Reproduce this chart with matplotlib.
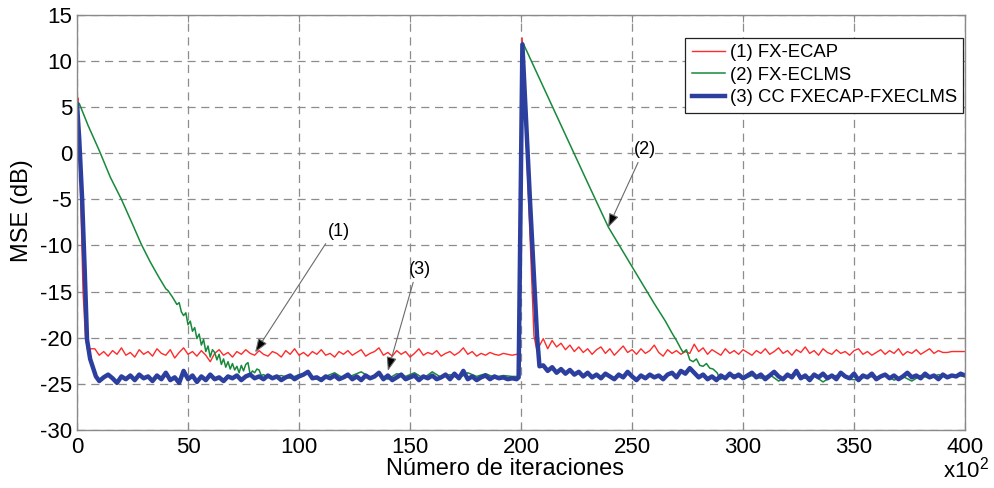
import numpy as np
import matplotlib
matplotlib.use('Agg')
import matplotlib.pyplot as plt

plt.rcParams['font.family'] = ['Liberation Sans', 'DejaVu Sans']
plt.rcParams['axes.unicode_minus'] = False
plt.rcParams['mathtext.default'] = 'regular'

# ---- datos (iteraciones en x10^2, MSE en dB) ----
# (1) FX-ECAP
red_x0 = [0, 0.4, 1.5, 2.7, 3.8, 4.8, 5.8]
red_y0 = [5.2, 6.0, -3.5, -15.0, -20.0, -21.3, -21.2]
red_x1 = np.arange(8, 199, 2)
red_y1 = [-21.2, -21.9, -21.5, -22.0, -21.4, -21.8, -21.1, -21.9, -21.6, -22.1, -21.3, -21.8,
          -21.5, -22.0, -21.2, -21.7, -21.9, -21.3, -22.2, -21.6, -21.1, -21.8, -21.5, -22.0,
          -21.4, -21.9, -22.6, -21.7, -21.3, -21.9, -21.6, -22.1, -21.5, -21.8, -21.3, -21.7,
          -21.9, -21.4, -21.8, -22.0, -21.5, -21.7, -22.1, -21.4, -21.8, -21.2, -21.9, -21.6,
          -22.0, -21.5, -21.8, -21.3, -21.9, -21.7, -22.1, -21.5, -21.8, -21.4, -21.9, -21.6,
          -21.3, -22.0, -21.7, -21.5, -21.1, -21.9, -21.6, -22.0, -21.4, -21.8, -21.5, -22.1,
          -21.7, -21.2, -21.9, -21.6, -21.8, -21.4, -22.0, -21.7, -21.5, -21.9, -21.6, -21.1,
          -21.8, -21.5, -22.0, -21.7, -21.9, -21.6, -21.8, -21.9, -21.7, -21.8, -21.9, -21.8]
red_xs = [199.3, 200.5, 205.8, 207.0]
red_ys = [-21.8, 12.5, -19.8, -21.2]
red_x2 = np.arange(208, 401, 2)
red_y2 = [-21.0, -20.1, -21.2, -20.3, -21.0, -20.6, -21.3, -20.8, -21.5, -21.0, -21.6, -21.2,
          -21.8, -21.3, -21.0, -21.7, -21.2, -21.9, -21.4, -20.9, -21.6, -21.3, -21.8, -21.2,
          -21.7, -21.4, -20.8, -21.6, -22.0, -21.3, -21.7, -21.4, -21.8, -21.5, -21.7, -20.7,
          -21.5, -21.1, -21.8, -21.3, -21.6, -21.9, -21.2, -21.7, -21.4, -21.8, -21.3, -21.6,
          -21.9, -21.4, -21.7, -21.2, -21.8, -21.5, -21.1, -21.7, -21.4, -21.9, -21.3, -21.6,
          -21.0, -21.7, -21.4, -21.9, -21.2, -21.6, -21.8, -21.3, -21.7, -21.5, -21.9, -21.4,
          -21.2, -21.8, -21.5, -21.9, -21.6, -21.3, -21.8, -21.4, -21.7, -21.2, -21.9, -21.5,
          -21.7, -21.3, -21.8, -21.5, -21.2, -21.7, -21.4, -21.6, -21.6, -21.5, -21.5, -21.5,
          -21.5]

# (2) FX-ECLMS
green_x0 = [0, 1, 5, 10, 15, 20, 25, 29, 33, 37, 40, 41, 43, 45, 46, 47, 48, 49, 50, 51,
            52, 53, 54, 55, 56, 57, 58, 59, 60, 61, 62, 63, 64, 65, 66, 67, 68, 69, 70, 71,
            72, 73, 74, 75, 76, 77, 78, 79, 80, 81, 82, 83, 84, 86]
green_y0 = [4.8, 5.4, 3.0, 0.3, -2.6, -5.0, -7.7, -9.9, -11.8, -13.5, -14.7, -14.9, -15.6, -16.4,
            -16.2, -17.2, -17.6, -17.3, -18.6, -18.2, -19.3, -18.9, -20.1, -19.6, -20.8, -20.2,
            -21.5, -20.9, -22.1, -21.3, -21.6, -22.4, -21.8, -22.9, -22.3, -23.2, -22.6, -23.4,
            -22.8, -23.5, -23.1, -23.8, -23.0, -23.6, -22.9, -22.7, -24.0, -23.6, -23.8, -23.4,
            -23.5, -24.1, -24.0, -24.3]
green_x1 = np.arange(88, 197, 4)
green_y1 = [-24.3, -24.1, -24.4, -24.0, -23.9, -24.5, -24.2, -23.8, -24.4, -24.1, -23.7, -24.3,
            -24.0, -24.5, -23.9, -24.2, -23.8, -24.4, -23.7, -24.3, -24.0, -24.4, -23.8, -24.2,
            -23.9, -24.3, -24.1, -24.2]
green_xs = [198.8, 200.8, 210, 220, 230, 239.3, 245, 250, 255, 260, 265, 268, 270, 272, 273,
            274.5, 276, 277.5, 279, 280.5, 282, 283.5, 285, 286.5, 288.3, 289.6]
green_ys = [-24.2, 12.0, 7.2, 2.0, -3.2, -8.0, -10.3, -12.3, -14.3, -16.3, -18.2, -19.5, -20.3,
            -21.2, -21.6, -21.3, -22.4, -22.6, -22.3, -23.0, -23.1, -22.8, -23.3, -23.4, -23.8,
            -24.5]
green_x2 = np.arange(292, 401, 4)
green_y2 = [-24.3, -24.0, -24.5, -24.1, -24.4, -24.0, -24.7, -24.2, -23.9, -24.4, -24.1, -24.8,
            -24.2, -24.0, -24.5, -24.6, -24.1, -24.4, -24.0, -24.6, -24.2, -24.7, -24.1, -24.4,
            -24.0, -24.3, -24.1, -24.2]

# (3) CC FXECAP-FXECLMS
blue_x0 = [0, 1.0, 2.3, 3.5, 4.5, 5.9, 7.0, 8.5]
blue_y0 = [5.3, 1.5, -5.0, -13.0, -20.2, -22.3, -23.1, -24.2]
blue_x1 = np.arange(10, 199, 2)
blue_y1 = [-24.7, -24.3, -24.0, -24.4, -24.9, -24.2, -24.5, -24.1, -24.6, -24.0, -24.4, -24.2,
           -24.7, -24.1, -24.5, -23.8, -24.6, -24.3, -24.9, -23.6, -24.5, -24.1, -24.8, -24.2,
           -24.6, -24.0, -24.5, -24.3, -24.7, -24.2, -24.4, -24.1, -24.6, -24.2, -24.0, -24.4,
           -24.2, -24.5, -24.1, -24.4, -24.2, -24.6, -24.3, -24.1, -24.5, -24.2, -24.0, -23.7,
           -24.4, -24.3, -24.6, -24.2, -24.4, -24.1, -24.5, -24.3, -24.0, -24.5, -24.2, -24.6,
           -24.1, -24.4, -24.2, -23.8, -24.5, -24.1, -24.6, -24.3, -24.0, -24.5, -24.3, -24.1,
           -24.6, -24.2, -24.4, -24.1, -24.5, -24.3, -24.0, -24.5, -23.9, -24.4, -23.6, -24.5,
           -24.2, -24.6, -24.3, -24.1, -24.5, -24.2, -24.4, -24.3, -24.5, -24.4, -24.5]
blue_xs = [198.9, 200.6, 204.0, 207.2, 208.3]
blue_ys = [-24.3, 11.8, -5.0, -19.8, -23.1]
blue_x2 = np.arange(210, 401, 2)
blue_y2 = [-23.0, -23.6, -23.2, -23.8, -23.4, -23.9, -23.5, -24.0, -23.7, -24.2, -23.8, -24.3,
           -24.0, -24.4, -23.9, -24.2, -24.5, -24.0, -24.3, -23.7, -24.2, -24.6, -24.1, -24.4,
           -24.0, -24.3, -24.1, -24.5, -24.0, -23.8, -24.3, -23.6, -23.9, -23.3, -23.8, -24.3,
           -24.0, -24.5, -24.2, -24.6, -24.1, -24.4, -23.9, -24.3, -24.0, -24.4, -24.1, -23.8,
           -24.3, -24.0, -24.5, -24.1, -23.7, -24.2, -24.5, -24.0, -24.3, -23.6, -24.4, -24.1,
           -24.6, -24.0, -24.3, -23.9, -24.4, -24.1, -24.5, -23.8, -24.2, -24.4, -23.9, -24.6,
           -24.1, -24.3, -23.9, -24.5, -24.2, -24.0, -24.4, -24.1, -24.5, -24.2, -23.8, -24.3,
           -24.1, -24.4, -23.9, -24.3, -24.1, -24.5, -24.0, -24.3, -24.1, -24.2, -23.9, -24.1]

labels = ['(1) FX-ECAP', '(2) FX-ECLMS', '(3) CC FXECAP-FXECLMS']
x_ticks = np.arange(0, 401, 50)
y_ticks = np.arange(-30, 16, 5)

red_x = np.concatenate([red_x0, red_x1, red_xs, red_x2])
red_y = np.concatenate([red_y0, red_y1, red_ys, red_y2])
green_x = np.concatenate([green_x0, green_x1, green_xs, green_x2])
green_y = np.concatenate([green_y0, green_y1, green_ys, green_y2])
blue_x = np.concatenate([blue_x0, blue_x1, blue_xs, blue_x2])
blue_y = np.concatenate([blue_y0, blue_y1, blue_ys, blue_y2])

# ---- figura ----
fig = plt.figure(figsize=(9.94, 4.88), dpi=100)
ax = fig.add_axes([0.0775, 0.119, 0.8934, 0.8504])

ax.plot(red_x, red_y, color='#ff2a2a', lw=1.0, label=labels[0])
ax.plot(green_x, green_y, color='#17893a', lw=1.1, label=labels[1])
ax.plot(blue_x, blue_y, color='#2c3f9e', lw=3.2, label=labels[2])

ax.set_xlim(0, 400)
ax.set_ylim(-30, 15)
ax.set_xticks(x_ticks)
ax.set_yticks(y_ticks)
ax.grid(True, color='#8c8c8c', linestyle=(0, (6.5, 4.5)), lw=0.9)
ax.set_axisbelow(True)
for s in ax.spines.values():
    s.set_color('#8a8a8a')
    s.set_linewidth(1.0)
ax.tick_params(direction='in', length=5, color='#8a8a8a', labelsize=16,
               top=True, right=True)
ax.tick_params(axis='x', pad=5)
ax.tick_params(axis='y', pad=3.5)

ax.set_xlabel('Número de iteraciones', fontsize=17)
ax.xaxis.set_label_coords(0.482, -0.068)
ax.set_ylabel('MSE (dB)', fontsize=17)
ax.yaxis.set_label_coords(-0.05, 0.528)
ax.text(0.975, -0.095, 'x10$^{2}$', transform=ax.transAxes, fontsize=16,
        ha='left', va='center')

leg = ax.legend(loc='upper right', bbox_to_anchor=(0.998, 0.945), borderaxespad=0,
                fancybox=False, edgecolor='#222222', framealpha=1, fontsize=13.3,
                handlelength=1.8, handletextpad=0.25, labelspacing=0.3, borderpad=0.35)
leg.get_frame().set_linewidth(0.9)

# anotaciones con flecha
notes = [('(1)', (118, -8.5), (112, -9.8), (80.2, -21.6)),
         ('(3)', (154.5, -12.6), (151.4, -14.0), (140.0, -23.6)),
         ('(2)', (256.0, 0.4), (252.7, -1.0), (239.2, -8.05))]
for txt, tpos, start, tip in notes:
    ax.text(tpos[0], tpos[1], txt, fontsize=13, ha='center', va='center')
    ax.annotate('', xy=tip, xytext=start,
                arrowprops=dict(arrowstyle='-|>,head_length=0.6,head_width=0.22',
                                edgecolor='#6a6a6a', facecolor='black', lw=0.8,
                                shrinkA=0, shrinkB=0, mutation_scale=14))

fig.savefig('out.png', dpi=100)
